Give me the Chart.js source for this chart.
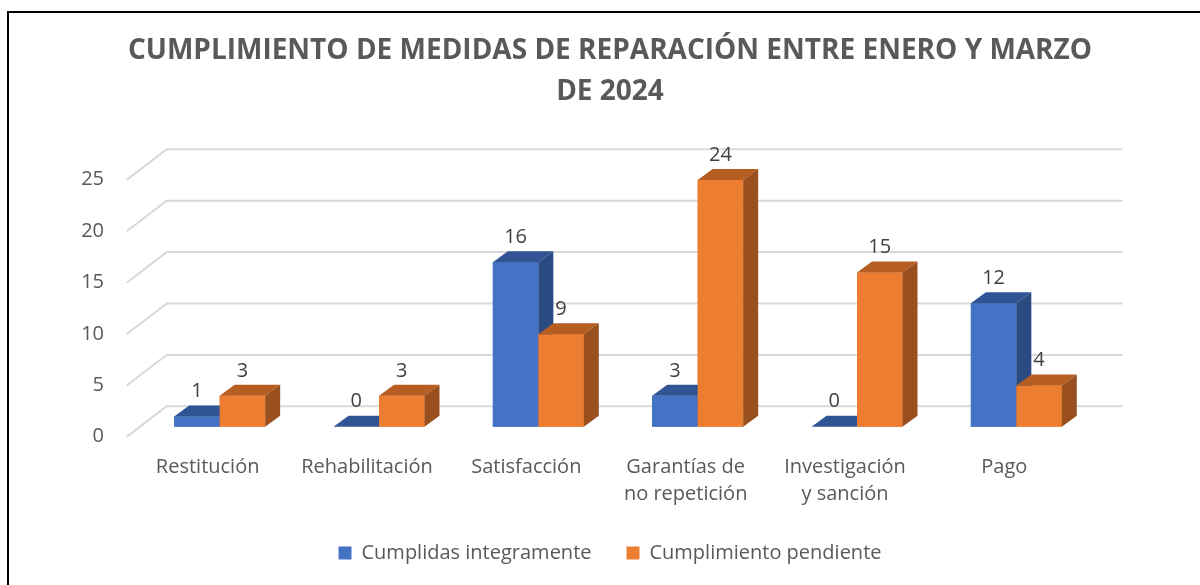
<!DOCTYPE html>
<html><head><meta charset="utf-8">
<script src="https://cdn.jsdelivr.net/npm/chart.js@4"></script>
<style>
html,body{margin:0;padding:0;background:#fff;width:1200px;height:585px;overflow:hidden}
#frame{position:absolute;left:7px;top:11px;width:1193px;height:574px;border-top:2px solid #000;border-left:2px solid #000;box-sizing:border-box}
#c{position:absolute;left:0;top:0}
</style></head><body>
<div id="frame"></div>
<canvas id="c" width="1200" height="585"></canvas>
<script>
const categories = ['Restitución','Rehabilitación','Satisfacción',['Garantías de','no repetición'],['Investigación','y sanción'],'Pago'];
const seriesNames = ['Cumplidas integramente','Cumplimiento pendiente'];
const cumplidas = [1,0,16,3,0,12];
const pendientes = [3,3,9,24,15,4];
const yTicks = [0,5,10,15,20,25];
const titleLines = ['CUMPLIMIENTO DE MEDIDAS DE REPARACIÓN ENTRE ENERO Y MARZO','DE 2024'];

const FRONT = ['#4472C4','#ED7D31'];
const TOP = ['#315594','#B65D21'];
const SIDE = ['#2A4A82','#9A4F1E'];
const BDX = 15, BDY = -11;

Chart.defaults.font.family = "'Open Sans', sans-serif";

const depth3d = {
  id: 'depth3d',
  beforeDatasetsDraw(chart) {
    const {ctx, chartArea: a, scales: {y}} = chart;
    ctx.save();
    ctx.strokeStyle = '#d9d9d9'; ctx.lineWidth = 2;
    y.ticks.forEach(t => {
      const py = y.getPixelForValue(t.value);
      ctx.beginPath();
      ctx.moveTo(a.left - 13.3, py + 10.2);
      ctx.lineTo(a.left + 26.7, py - 20.4);
      ctx.lineTo(a.right + 26.7, py - 20.4);
      ctx.stroke();
    });
    ctx.restore();
  },
  afterDatasetsDraw(chart) {
    const ctx = chart.ctx;
    const metas = chart.data.datasets.map((d, i) => chart.getDatasetMeta(i));
    const n = chart.data.labels.length;
    ctx.save();
    for (let j = 0; j < n; j++) {
      for (let i = 0; i < metas.length; i++) {
        const el = metas[i].data[j];
        el.draw(ctx);
        const {x, y, base, width} = el.getProps(['x','y','base','width'], true);
        const x0 = x - width/2, x1 = x + width/2;
        ctx.fillStyle = TOP[i];
        ctx.beginPath();
        ctx.moveTo(x0, y); ctx.lineTo(x1, y); ctx.lineTo(x1 + BDX, y + BDY); ctx.lineTo(x0 + BDX, y + BDY);
        ctx.closePath(); ctx.fill();
        ctx.fillStyle = SIDE[i];
        ctx.beginPath();
        ctx.moveTo(x1, y); ctx.lineTo(x1 + BDX, y + BDY); ctx.lineTo(x1 + BDX, base + BDY); ctx.lineTo(x1, base);
        ctx.closePath(); ctx.fill();
      }
    }
    ctx.font = "20px 'Open Sans', sans-serif";
    ctx.fillStyle = '#404040';
    ctx.textAlign = 'center';
    ctx.textBaseline = 'middle';
    metas.forEach((m, i) => {
      m.data.forEach((el, j) => {
        const {x, y} = el.getProps(['x','y'], true);
        ctx.fillText(String(chart.data.datasets[i].data[j]), x, y - 25);
      });
    });
    ctx.restore();
  }
};

new Chart(document.getElementById('c'), {
  type: 'bar',
  data: {
    labels: categories,
    datasets: [
      {label: seriesNames[0], data: cumplidas, backgroundColor: FRONT[0], borderWidth: 0},
      {label: seriesNames[1], data: pendientes, backgroundColor: FRONT[1], borderWidth: 0}
    ]
  },
  options: {
    responsive: false,
    animation: false,
    devicePixelRatio: 1,
    categoryPercentage: 0.571,
    barPercentage: 1,
    layout: {padding: {left: 20, right: 0, top: 0, bottom: 12}},
    plugins: {
      tooltip: {enabled: false},
      title: {
        display: true,
        text: titleLines,
        color: '#595959',
        font: {size: 28, weight: 'bold', lineHeight: 41/28},
        padding: {top: 31, bottom: 56.7}
      },
      legend: {
        position: 'bottom',
        labels: {boxWidth: 13, boxHeight: 13, padding: 35, color: '#595959', font: {size: 20}}
      }
    },
    scales: {
      x: {
        grid: {display: false, drawTicks: false},
        border: {display: false},
        ticks: {color: '#595959', font: {size: 20, lineHeight: 1.35}, padding: 27, labelOffset: -12, maxRotation: 0, autoSkip: false},
        afterFit: s => { s.height = 81.3; }
      },
      y: {
        min: 0, max: 25,
        grid: {display: false, drawTicks: false},
        border: {display: false},
        ticks: {color: '#595959', font: {size: 20}, padding: 36, labelOffset: 10},
        afterBuildTicks: s => { s.ticks = yTicks.map(v => ({value: v})); },
        afterFit: s => { s.width = 120; }
      },
      y2: {
        position: 'right',
        min: 0, max: 25,
        grid: {display: false, drawTicks: false},
        border: {display: false},
        ticks: {display: false},
        afterFit: s => { s.width = 104; }
      }
    }
  },
  plugins: [depth3d]
});
</script>
</body></html>
